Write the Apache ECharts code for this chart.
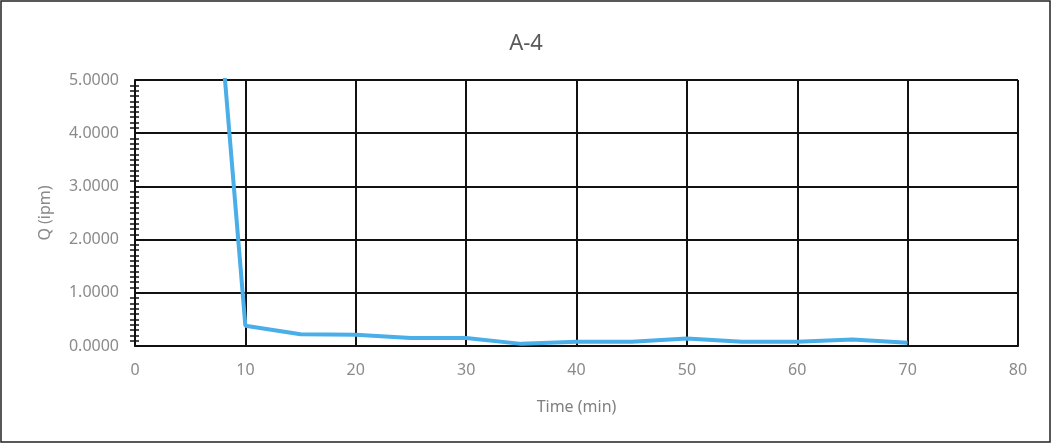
<!DOCTYPE html>
<html><head><meta charset="utf-8">
<script src="https://cdn.jsdelivr.net/npm/echarts@6/dist/echarts.min.js"></script>
<style>html,body{margin:0;padding:0;background:#fff}#c{width:1052px;height:444px}</style>
</head><body><div id="c"></div>
<script>
const title = "A-4";
const timeMin = [5, 10, 15, 20, 25, 30, 35, 40, 45, 50, 55, 60, 65, 70];
const qIpm = [12.9, 0.38, 0.22, 0.21, 0.15, 0.15, 0.04, 0.08, 0.08, 0.14, 0.08, 0.08, 0.12, 0.06];
const xName = "Time (min)";
const yName = "Q (ipm)";

const font = "Noto Sans";
const chart = echarts.init(document.getElementById('c'));
chart.setOption({
  animation: false,
  backgroundColor: '#fff',
  title: { text: title, left: 'center', top: 28, textStyle: { fontFamily: font, fontSize: 22, fontWeight: 'normal', color: '#595959' } },
  graphic: [{ type: 'rect', shape: { x: 1, y: 1, width: 1049, height: 441 }, style: { fill: 'none', stroke: '#222', lineWidth: 1.5 }, silent: true }],
  grid: { left: 135, right: 34, top: 80, bottom: 98 },
  xAxis: {
    type: 'value', min: 0, max: 80, interval: 10,
    name: xName, nameLocation: 'middle', nameGap: 53,
    nameTextStyle: { fontFamily: font, fontSize: 16, color: '#808080' },
    axisLine: { show: true, lineStyle: { color: '#111', width: 2 } },
    axisTick: { show: false },
    axisLabel: { fontFamily: font, fontSize: 16, color: '#8a8a8a', margin: 16 },
    splitLine: { show: true, lineStyle: { color: '#111', width: 2 } }
  },
  yAxis: [{
    type: 'value', min: 0, max: 5, interval: 1,
    name: yName, nameLocation: 'middle', nameGap: 82, nameRotate: 90,
    nameTextStyle: { fontFamily: font, fontSize: 16, color: '#8a8a8a' },
    axisLine: { show: true, lineStyle: { color: '#111', width: 2 } },
    axisTick: { show: false },
    minorTick: { show: true, splitNumber: 10, length: 5, lineStyle: { color: '#111', width: 1.5 } },
    axisLabel: { fontFamily: font, fontSize: 16, color: '#8a8a8a', margin: 16, formatter: v => v.toFixed(4) },
    splitLine: { show: true, lineStyle: { color: '#111', width: 2 } }
  }, {
    type: 'value', min: 0, max: 5, interval: 1, position: 'left',
    axisLine: { show: false }, axisTick: { show: false },
    minorTick: { show: true, splitNumber: 10, length: -4, lineStyle: { color: '#111', width: 1.5 } },
    axisLabel: { show: false }, splitLine: { show: false }
  }],
  series: [{
    type: 'line', data: timeMin.map((t, i) => [t, qIpm[i]]),
    showSymbol: false, clip: true,
    lineStyle: { color: '#4aaee8', width: 4 }
  }]
});
</script></body></html>
